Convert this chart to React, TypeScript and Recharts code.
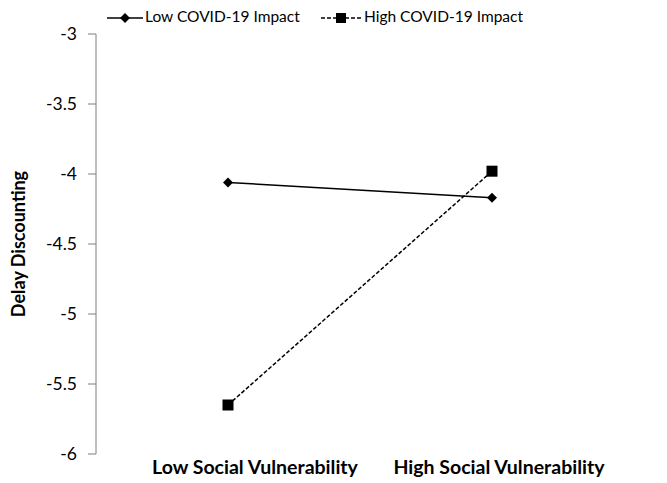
import { LineChart, Line, XAxis, YAxis } from "recharts";

const categories = ["Low Social Vulnerability", "High Social Vulnerability"];
const lowImpact = [-4.06, -4.17];
const highImpact = [-5.65, -3.98];
const yTicks = [-6, -5.5, -5, -4.5, -4, -3.5, -3];

const data = categories.map((name, i) => ({
  name,
  low: lowImpact[i],
  high: highImpact[i],
}));

const FONT = "Lato, 'Open Sans', sans-serif";

// the category labels in the original sit a little right of their points
const LABEL_SHIFT = [27, 7];

const CategoryTick = (props: any) => {
  const { x, y, payload, index } = props;
  return (
    <text
      x={x + (LABEL_SHIFT[index] || 0)}
      y={y}
      dy={14}
      textAnchor="middle"
      fill="#000"
      fontSize={19.5}
      fontWeight={700}
      fontFamily={FONT}
    >
      {payload.value}
    </text>
  );
};

const Diamond = (props: any) => {
  const { cx, cy } = props;
  if (cx == null || cy == null) return null;
  const r = 5;
  return (
    <path
      d={`M${cx},${cy - r} L${cx + r},${cy} L${cx},${cy + r} L${cx - r},${cy} Z`}
      fill="#000"
    />
  );
};

const Square = (props: any) => {
  const { cx, cy } = props;
  if (cx == null || cy == null) return null;
  const r = 5.5;
  return <rect x={cx - r} y={cy - r} width={r * 2} height={r * 2} fill="#000" />;
};

function LegendBox() {
  return (
    <div
      style={{
        position: "absolute",
        left: 0,
        top: 2,
        width: 667,
        height: 30,
        fontFamily: FONT,
        fontSize: 15.5,
        color: "#000",
      }}
    >
      <svg width={40} height={14} style={{ position: "absolute", left: 106, top: 9 }}>
        <line x1={1} y1={7} x2={37} y2={7} stroke="#000" strokeWidth={1.5} />
        <path d="M19,2 L24,7 L19,12 L14,7 Z" fill="#000" />
      </svg>
      <span style={{ position: "absolute", left: 145, top: 5 }}>Low COVID-19 Impact</span>
      <svg width={42} height={14} style={{ position: "absolute", left: 321, top: 9 }}>
        <line x1={0} y1={7} x2={40} y2={7} stroke="#000" strokeWidth={1.5} strokeDasharray="4 2" />
        <rect x={15} y={2} width={10} height={10} fill="#000" />
      </svg>
      <span style={{ position: "absolute", left: 364, top: 5 }}>High COVID-19 Impact</span>
    </div>
  );
}

export default function App() {
  return (
    <div style={{ position: "absolute", left: 0, top: 0, width: 667, height: 483, background: "#fff" }}>
      <LineChart
        width={667}
        height={483}
        data={data}
        margin={{ top: 34, right: 43, bottom: 0, left: 0 }}
      >
        <XAxis
          dataKey="name"
          axisLine={false}
          tickLine={false}
          height={29}
          tickMargin={0}
          interval={0}
          padding={{ left: 132, right: 132 }}
          tick={<CategoryTick />}
        />
        <YAxis
          width={96}
          domain={[-6, -3]}
          ticks={yTicks}
          interval={0}
          axisLine={{ stroke: "#7f7f7f", strokeWidth: 1 }}
          tickLine={{ stroke: "#7f7f7f" }}
          tickSize={8}
          tickMargin={11}
          tick={{ fill: "#000", fontSize: 17.5, fontFamily: FONT }}
          label={{
            value: "Delay Discounting",
            angle: -90,
            position: "insideLeft",
            offset: 19,
            style: { textAnchor: "middle", fill: "#000", fontSize: 18, fontWeight: 700, fontFamily: FONT },
          }}
        />
        <Line
          dataKey="low"
          stroke="#000"
          strokeWidth={1.5}
          dot={<Diamond />}
          activeDot={false}
          isAnimationActive={false}
        />
        <Line
          dataKey="high"
          stroke="#000"
          strokeWidth={1.5}
          strokeDasharray="4 2"
          dot={<Square />}
          activeDot={false}
          isAnimationActive={false}
        />
      </LineChart>
      <LegendBox />
    </div>
  );
}
